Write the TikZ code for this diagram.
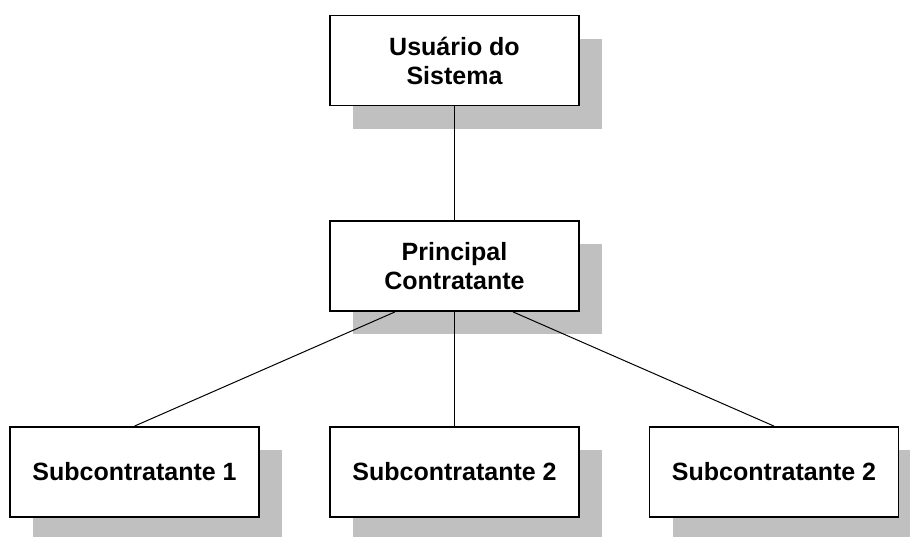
\documentclass[tikz,border=0pt]{standalone}
\usepackage{fontspec}
\setmainfont{Liberation Sans}
\usetikzlibrary{shadows,calc}
\definecolor{shadowgray}{HTML}{C0C0C0}
\tikzset{
  orgbox/.style={draw=black, line width=1.8pt, fill=white,
    minimum width=249pt, minimum height=90pt, inner sep=0pt,
    align=center, font=\fontsize{25}{29}\selectfont\bfseries,
    general shadow={fill=shadowgray, draw=none, shadow xshift=23pt, shadow yshift=-23pt}},
  link/.style={draw=black, line width=1pt}
}
\begin{document}
\begin{tikzpicture}[x=1pt,y=-1pt]
\useasboundingbox (0,0) rectangle (910,536);
\node[orgbox] (top) at (454.5,60.5) {Usuário do\\Sistema};
\node[orgbox] (mid) at (454.5,266) {Principal\\Contratante};
\node[orgbox] (s1) at (134.5,472) {Subcontratante 1};
\node[orgbox] (s2) at (454.5,472) {Subcontratante 2};
\node[orgbox] (s3) at (774,472) {Subcontratante 2};
\coordinate (mL) at ($(mid.south)+(-59.5,0)$);
\coordinate (mR) at ($(mid.south)+(58.5,0)$);
\draw[link] (top.south) -- (mid.north);
\draw[link] (mL) -- (s1.north);
\draw[link] (mid.south) -- (s2.north);
\draw[link] (mR) -- (s3.north);
\end{tikzpicture}
\end{document}
